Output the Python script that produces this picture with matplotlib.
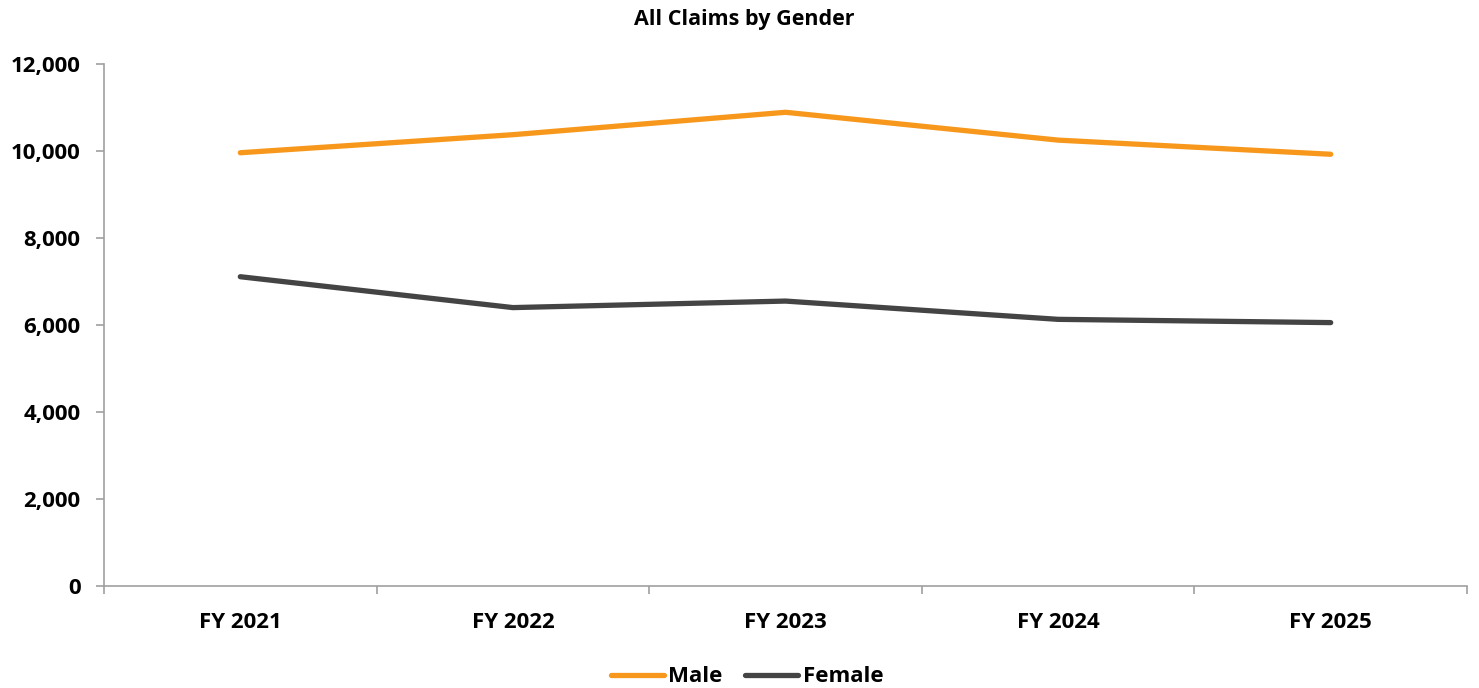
import matplotlib
matplotlib.use("Agg")
import matplotlib.pyplot as plt
import numpy as np
from matplotlib.ticker import FuncFormatter

years = ["FY 2021", "FY 2022", "FY 2023", "FY 2024", "FY 2025"]
male = [9960, 10375, 10890, 10250, 9925]
female = [7110, 6400, 6550, 6130, 6055]

plt.rcParams['font.family'] = ['Open Sans', 'DejaVu Sans']
plt.rcParams['font.weight'] = 'bold'

fig = plt.figure(figsize=(14.79, 6.88), dpi=100)
ax = fig.add_axes([104/1479, 1 - 586/688, (1467 - 104)/1479, (586 - 64)/688])

x = np.arange(len(years))
ax.plot(x, male, color="#F7981D", lw=3.8, solid_capstyle="round", solid_joinstyle="round", label="Male")
ax.plot(x, female, color="#444444", lw=3.8, solid_capstyle="round", solid_joinstyle="round", label="Female")

ax.set_xlim(-0.5, len(years) - 0.5)
ax.set_ylim(0, 12000)
ax.set_yticks(range(0, 12001, 2000))
ax.yaxis.set_major_formatter(FuncFormatter(lambda v, p: f"{int(v):,}"))

# category labels at centers, tick marks at boundaries
ax.set_xticks(np.arange(-0.5, len(years)), minor=False)
ax.set_xticklabels([""] * (len(years) + 1))
ax.set_xticks(x, minor=True)
ax.set_xticklabels(years, minor=True)
ax.tick_params(axis="x", which="minor", length=0, pad=19, labelsize=16)
ax.tick_params(axis="x", which="major", length=6, color="#A0A0A0", width=1.2)
ax.tick_params(axis="y", length=6, color="#A0A0A0", width=1.2, labelsize=16, pad=11)

for s in ["top", "right"]:
    ax.spines[s].set_visible(False)
for s in ["left", "bottom"]:
    ax.spines[s].set_color("#A0A0A0")
    ax.spines[s].set_linewidth(1.2)

fig.text(744/1479, 1 - 19/688, "All Claims by Gender", ha="center", va="center", fontsize=15.5, fontweight="bold")

fig.legend(loc="center", bbox_to_anchor=(747/1479, 1 - 677/688), ncol=2, frameon=False,
           fontsize=16, handlelength=2.4, handletextpad=0.2, columnspacing=1.0)

fig.savefig("out.png", dpi=100)
